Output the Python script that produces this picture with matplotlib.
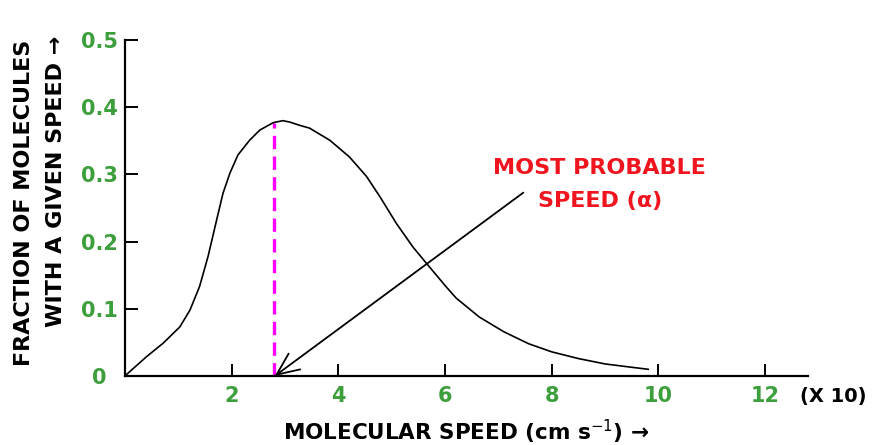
import matplotlib
matplotlib.use("Agg")
import matplotlib.pyplot as plt

# ---- data ----
speed = [0, 0.41, 0.72, 1.03, 1.22, 1.40, 1.56, 1.72, 1.84, 1.97, 2.12, 2.34,
         2.53, 2.78, 2.96, 3.09, 3.28, 3.46, 3.84, 4.21, 4.53, 4.78, 5.09, 5.40,
         5.65, 6.02, 6.21, 6.64, 7.1, 7.57, 8.0, 8.5, 9.0, 9.4, 9.81]
fraction = [0, 0.029, 0.049, 0.073, 0.098, 0.133, 0.178, 0.232, 0.272, 0.302,
            0.329, 0.351, 0.366, 0.377, 0.380, 0.378, 0.373, 0.369, 0.351,
            0.326, 0.297, 0.267, 0.227, 0.192, 0.168, 0.133, 0.116, 0.088,
            0.066, 0.048, 0.036, 0.026, 0.018, 0.014, 0.010]
most_probable = 2.8
most_probable_height = 0.377
xticks = [2, 4, 6, 8, 10, 12]
yticks = [0, 0.1, 0.2, 0.3, 0.4, 0.5]
ytick_labels = ["0", "0.1", "0.2", "0.3", "0.4", "0.5"]
arrow_start = (7.47, 0.273)
arrow_end = (2.81, 0.0)

GREEN = "#3c9f3c"
RED = "#f0141e"
MAGENTA = "#ff00ff"

fig = plt.figure(figsize=(8.79, 4.45), dpi=100)
ax = fig.add_axes([0.142, 0.155, 0.777, 0.755])

ax.plot(speed, fraction, color="black", lw=1.2, zorder=3,
        solid_joinstyle="round")

# most probable speed dashed line
ax.plot([most_probable, most_probable], [0, most_probable_height],
        color=MAGENTA, lw=2.4, dashes=(4, 2.2), zorder=2)

ax.annotate("", xy=arrow_end, xytext=arrow_start,
            arrowprops=dict(arrowstyle="->,head_length=0.5,head_width=0.22",
                            color="black", lw=1.3,
                            mutation_scale=32, shrinkA=0, shrinkB=0))

ax.text(8.9, 0.31, "MOST PROBABLE", color=RED, fontsize=16, fontweight="bold",
        ha="center", va="center")
ax.text(8.9, 0.26, "SPEED (α)", color=RED, fontsize=16, fontweight="bold",
        ha="center", va="center")

ax.set_xlim(0, 12.8)
ax.set_ylim(0, 0.5)
for s in ["top", "right"]:
    ax.spines[s].set_visible(False)
for s in ["left", "bottom"]:
    ax.spines[s].set_linewidth(1.6)

ax.set_xticks(xticks)
ax.set_xticklabels([str(t) for t in xticks])
ax.set_yticks(yticks)
ax.set_yticklabels(ytick_labels)
ax.tick_params(axis="both", direction="in", length=9, width=1.4,
               labelsize=15, labelcolor=GREEN)
ax.tick_params(axis="x", pad=7)
ax.tick_params(axis="y", pad=5)
for lab in ax.get_xticklabels() + ax.get_yticklabels():
    lab.set_fontweight("bold")
ax.yaxis.get_major_ticks()[0].set_pad(13)

fig.text(0.91, 0.108, "(X 10)", fontsize=14, fontweight="bold", ha="left",
         va="center", color="black")
fig.text(0.530, 0.029, "MOLECULAR SPEED (cm s$^{-1}$) →", fontsize=15.5,
         fontweight="bold", ha="center", va="center")
fig.text(0.027, 0.543, "FRACTION OF MOLECULES", fontsize=16, fontweight="bold",
         rotation=90, ha="center", va="center")
fig.text(0.064, 0.592, "WITH A GIVEN SPEED →", fontsize=16, fontweight="bold",
         rotation=90, ha="center", va="center")

fig.savefig("out.png", dpi=100)
